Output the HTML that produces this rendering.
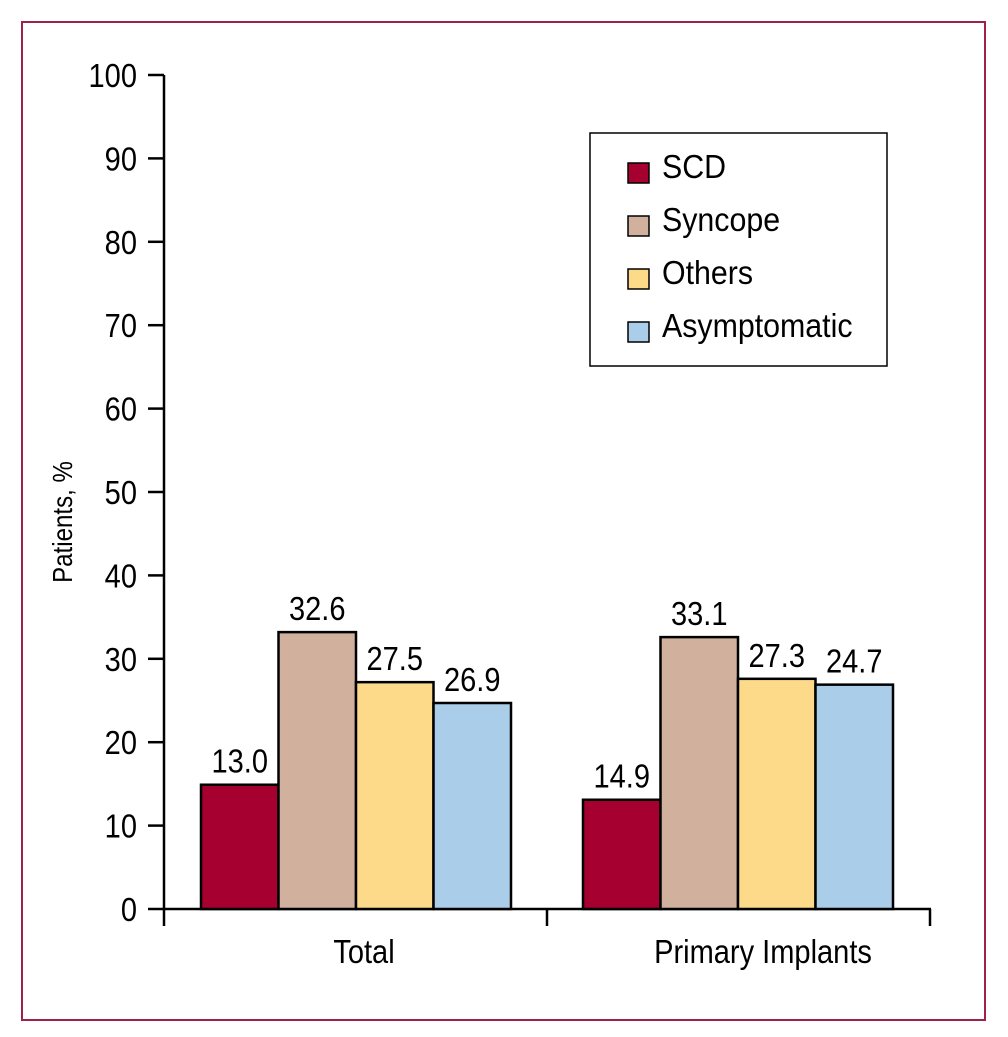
<!DOCTYPE html>
<html><head><meta charset="utf-8"><style>
body{margin:0;background:#fff;}
svg{display:block;font-family:"Liberation Sans",sans-serif;}
</style></head><body>
<svg id="c" width="1008" height="1037">
<rect x="22" y="22" width="963" height="998" fill="none" stroke="#a0204a" stroke-width="2"/>
</svg>
<script>
const categories=["Total","Primary Implants"];
const seriesNames=["SCD","Syncope","Others","Asymptomatic"];
const colors=["#a50030","#d2b09e","#fdd98a","#aacde9"];
const totalValues=[14.9,33.2,27.2,24.7];
const primaryValues=[13.1,32.6,27.6,26.9];
const totalLabels=["13.0","32.6","27.5","26.9"];
const primaryLabels=["14.9","33.1","27.3","24.7"];
const yTicks=[0,10,20,30,40,50,60,70,80,90,100];
const svg=document.getElementById('c');
const NS="http://www.w3.org/2000/svg";
const SX=0.88, FS=33;
function mk(t,a,txt){const e=document.createElementNS(NS,t);for(const k in a)e.setAttribute(k,a[k]);if(txt!=null)e.textContent=txt;svg.appendChild(e);return e;}
const y=v=>909-v*8.34;
const groupX=i=>201+i*382;
const barW=77.5;
let e=mk('line',{x1:164,y1:75,x2:164,y2:910,stroke:'#000','stroke-width':2.5});

e=mk('line',{x1:163,y1:909,x2:931,y2:909,stroke:'#000','stroke-width':2.5});

[164,547,930].forEach(x=>{const t=mk('line',{x1:x,y1:909,x2:x,y2:926,stroke:'#000','stroke-width':2.5});
});
yTicks.forEach(v=>{
 const t=mk('line',{x1:148,y1:y(v),x2:164,y2:y(v),stroke:'#000','stroke-width':2.5});
 
 const l=mk('text',{x:137/SX,y:y(v)+12,'text-anchor':'end','font-size':FS,transform:`scale(${SX},1)`},v);
 
});
e=mk('text',{x:0,y:0,'text-anchor':'middle','font-size':28,transform:'translate(72,522) rotate(-90) scale(0.86,1)'},'Patients, %');

[totalValues,primaryValues].forEach((vals,g)=>{
 const labs=g===0?totalLabels:primaryLabels;
 vals.forEach((v,i)=>{
  const x=groupX(g)+i*barW;
  const r=mk('rect',{x:x,y:y(v),width:barW,height:909-y(v),fill:colors[i],stroke:'#000','stroke-width':2.5});
  
  
  const t=mk('text',{x:(x+barW/2)/SX,y:y(v)-12,'text-anchor':'middle','font-size':FS,transform:`scale(${SX},1)`},labs[i]);
  
  
 });
 const cx=groupX(g)+2*barW+(g===0?8:25);
 const c=mk('text',{x:cx/SX,y:963,'text-anchor':'middle','font-size':FS,transform:`scale(${SX},1)`},categories[g]);
 
 
});
e=mk('rect',{x:590,y:133,width:297,height:233,fill:'#fff',stroke:'#000','stroke-width':1.5});

seriesNames.forEach((n,i)=>{
 const yy=165+i*53;
 const s=mk('rect',{x:628,y:yy-2,width:21,height:20,fill:colors[i],stroke:'#000','stroke-width':1.5});
 
 
 const t=mk('text',{x:662/0.92,y:yy+13,'font-size':33,transform:'scale(0.92,1)'},n);
 
 
});
</script>
</body></html>
